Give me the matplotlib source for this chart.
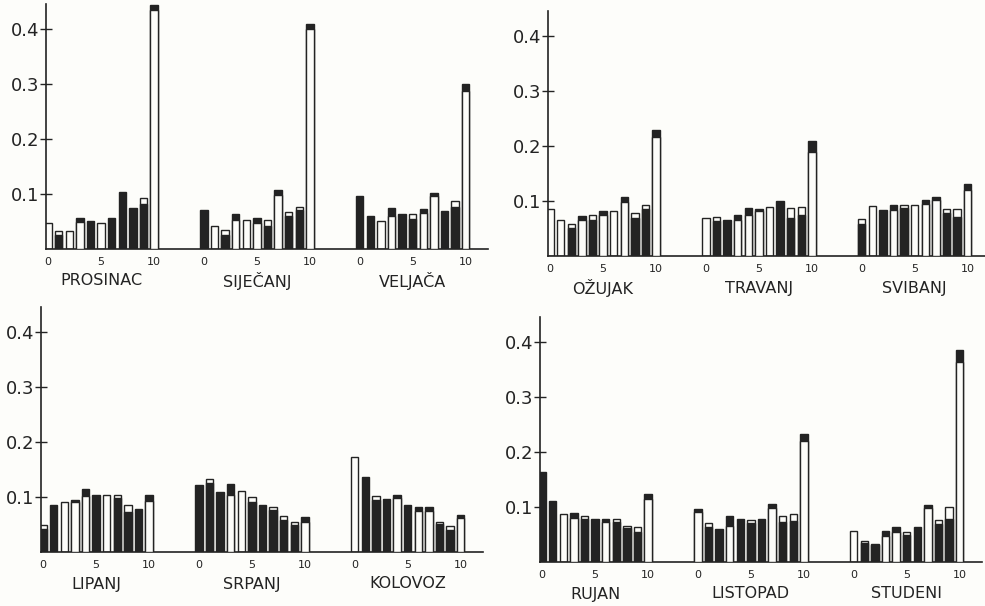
import numpy as np
import matplotlib.pyplot as plt

# razredi 0..10, bijeli i crni stupac za svaki razred (0 = stupac se ne vidi)
classes = np.arange(11)
xtick_vals = [0, 5, 10]

prosinac_w = [0.048, 0.033, 0.032, 0.049, 0, 0.048, 0, 0, 0, 0.093, 0.435]
prosinac_b = [0, 0.026, 0, 0.056, 0.051, 0, 0.057, 0.103, 0.075, 0.082, 0.443]
sijecanj_w = [0, 0.042, 0.034, 0.052, 0.053, 0.047, 0.053, 0.098, 0.068, 0.077, 0.400]
sijecanj_b = [0.070, 0, 0.025, 0.063, 0, 0.056, 0.042, 0.108, 0.060, 0.071, 0.408]
veljaca_w = [0, 0, 0.050, 0.060, 0, 0.063, 0.065, 0.096, 0, 0.088, 0.287]
veljaca_b = [0.097, 0.060, 0, 0.074, 0.063, 0.054, 0.072, 0.102, 0.069, 0.077, 0.300]

ozujak_w = [0.086, 0.066, 0.059, 0.066, 0.074, 0.074, 0.082, 0.098, 0.078, 0.092, 0.216]
ozujak_b = [0, 0, 0.050, 0.072, 0.065, 0.082, 0, 0.107, 0.069, 0.086, 0.229]
travanj_w = [0.069, 0.070, 0, 0.066, 0.075, 0.081, 0.089, 0, 0.087, 0.089, 0.189]
travanj_b = [0, 0.063, 0.065, 0.074, 0.087, 0.086, 0, 0.100, 0.069, 0.075, 0.208]
svibanj_w = [0.068, 0.090, 0, 0.083, 0.093, 0.093, 0.095, 0.102, 0.086, 0.086, 0.119]
svibanj_b = [0.058, 0, 0.084, 0.093, 0.087, 0, 0.101, 0.108, 0.078, 0.070, 0.131]

lipanj_w = [0.049, 0, 0.090, 0.090, 0.102, 0, 0.104, 0.104, 0.086, 0, 0.092]
lipanj_b = [0.041, 0.086, 0, 0.094, 0.115, 0.104, 0, 0.098, 0.072, 0.078, 0.104]
srpanj_w = [0, 0.133, 0, 0.103, 0.111, 0.099, 0, 0.082, 0.065, 0.055, 0.054]
srpanj_b = [0.122, 0.125, 0.109, 0.123, 0, 0.091, 0.086, 0.076, 0.059, 0.049, 0.063]
kolovoz_w = [0.173, 0, 0.102, 0, 0.098, 0, 0.075, 0.075, 0.055, 0.047, 0.061]
kolovoz_b = [0, 0.137, 0.094, 0.096, 0.104, 0.086, 0.081, 0.081, 0.050, 0.040, 0.067]

rujan_w = [0, 0, 0.087, 0.080, 0.084, 0, 0.072, 0.078, 0.066, 0.064, 0.114]
rujan_b = [0.164, 0.110, 0, 0.089, 0.078, 0.078, 0.078, 0.072, 0.061, 0.054, 0.123]
listopad_w = [0.090, 0.071, 0, 0.066, 0, 0.077, 0, 0.098, 0.084, 0.087, 0.219]
listopad_b = [0.096, 0.063, 0.060, 0.083, 0.078, 0.070, 0.078, 0.105, 0.072, 0.075, 0.232]
studeni_w = [0.057, 0.039, 0.033, 0.048, 0.054, 0.054, 0, 0.098, 0.077, 0.099, 0.364]
studeni_b = [0, 0.035, 0.030, 0.056, 0.064, 0.049, 0.063, 0.104, 0.069, 0.078, 0.385]

BLACK = '#232323'
WHITE = '#fdfdfa'
GROUP_STEP = 14.7
W, H = 985, 606

# (lijevo, gore, desno, dolje) u pikselima, mjeseci u panelu
panels = [
    ((46, 4, 488, 249), [('PROSINAC', prosinac_w, prosinac_b),
                         ('SIJEČANJ', sijecanj_w, sijecanj_b),
                         ('VELJAČA', veljaca_w, veljaca_b)]),
    ((548, 11, 990, 256), [('OŽUJAK', ozujak_w, ozujak_b),
                           ('TRAVANJ', travanj_w, travanj_b),
                           ('SVIBANJ', svibanj_w, svibanj_b)]),
    ((41, 307, 483, 552), [('LIPANJ', lipanj_w, lipanj_b),
                           ('SRPANJ', srpanj_w, srpanj_b),
                           ('KOLOVOZ', kolovoz_w, kolovoz_b)]),
    ((540, 317, 982, 562), [('RUJAN', rujan_w, rujan_b),
                            ('LISTOPAD', listopad_w, listopad_b),
                            ('STUDENI', studeni_w, studeni_b)]),
]

fig = plt.figure(figsize=(W / 100, H / 100), dpi=100)
fig.patch.set_facecolor(WHITE)

for (x0, y0, x1, y1), months in panels:
    ax = fig.add_axes([x0 / W, 1 - y1 / H, (x1 - x0) / W, (y1 - y0) / H])
    ax.set_facecolor('none')
    ticks = []
    for g, (name, w, b) in enumerate(months):
        w = np.array(w)
        b = np.array(b)
        x = g * GROUP_STEP + classes
        black_back = b >= w
        back = np.maximum(w, b)
        front = np.minimum(w, b)
        ax.bar(x, back, width=0.7, color=[BLACK if k else WHITE for k in black_back],
               edgecolor=BLACK, linewidth=1, zorder=2)
        ax.bar(x, front, width=0.7, color=[WHITE if k else BLACK for k in black_back],
               edgecolor=BLACK, linewidth=1, zorder=3)
        ticks += [g * GROUP_STEP + t for t in xtick_vals]
        ax.annotate(name, xy=(g * GROUP_STEP + 5, 0), xycoords='data',
                    xytext=(0, -32), textcoords='offset pixels',
                    ha='center', va='center', fontsize=11.5, color=BLACK)

    ax.set_xlim(-0.2, 41.5)
    ax.set_ylim(0, 0.445)
    ax.set_xticks(ticks, labels=[str(t) for t in xtick_vals] * 3)
    ax.set_yticks([0.1, 0.2, 0.3, 0.4], labels=['0.1', '0.2', '0.3', '0.4'])
    ax.tick_params(axis='x', length=0, pad=6, labelsize=8, colors=BLACK)
    ax.tick_params(axis='y', direction='inout', length=8, width=1, pad=1,
                   labelsize=13, colors=BLACK)
    for side in ['top', 'right']:
        ax.spines[side].set_visible(False)
    for side in ['left', 'bottom']:
        ax.spines[side].set_linewidth(1.2)
        ax.spines[side].set_color(BLACK)

fig.savefig('out.png', dpi=100, facecolor=fig.get_facecolor())
